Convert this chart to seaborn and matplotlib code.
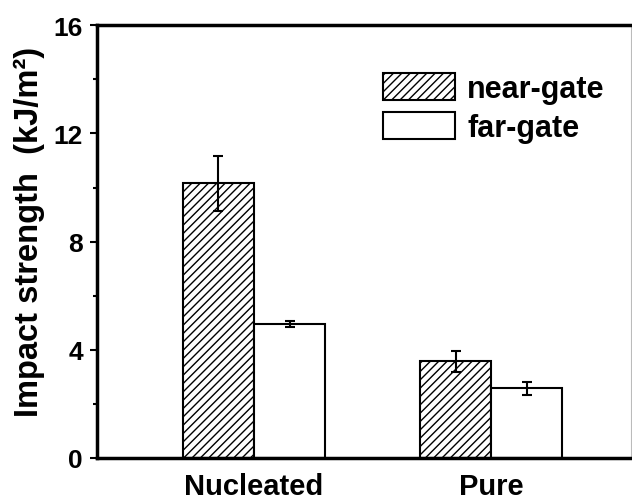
import matplotlib
matplotlib.use("Agg")
import matplotlib.pyplot as plt
import matplotlib.patches as mpatches
import seaborn as sns
import pandas as pd
import numpy as np

categories = ["Nucleated", "Pure"]
series = ["near-gate", "far-gate"]
near_gate = [10.15, 3.57]
far_gate = [4.95, 2.57]
near_err = [1.0, 0.38]
far_err = [0.12, 0.24]
yticks = [0, 4, 8, 12, 16]

sns.set_style("white")
plt.rcParams["font.family"] = ["Liberation Sans", "DejaVu Sans"]
plt.rcParams["font.weight"] = "bold"
plt.rcParams["hatch.linewidth"] = 1.0
for k in ["text.color", "axes.labelcolor", "xtick.color", "ytick.color"]:
    plt.rcParams[k] = "black"

df = pd.DataFrame({
    "cat": categories * 2,
    "pos": [series[0]] * 2 + [series[1]] * 2,
    "val": near_gate + far_gate,
    "err": near_err + far_err,
})

fig = plt.figure(figsize=(6.32, 5.02), dpi=100)
ax = fig.add_axes([0.1535, 0.0857, 0.845, 0.862])

sns.barplot(data=df, x="cat", y="val", hue="pos", order=categories,
            hue_order=series, palette=["white", "white"], edgecolor="black",
            linewidth=1.5, width=0.6, gap=0, errorbar=None, legend=False, ax=ax)

hatches = {series[0]: "////", series[1]: ""}
bars = [p for p in ax.patches if isinstance(p, mpatches.Rectangle)]
idx = 0
for s in series:
    for c in categories:
        p = bars[idx]
        p.set_hatch(hatches[s])
        row = df[(df.cat == c) & (df.pos == s)].iloc[0]
        xc = p.get_x() + p.get_width() / 2
        ax.errorbar(xc, row.val, yerr=row.err, fmt="none", ecolor="black",
                    elinewidth=1.5, capsize=3.3, capthick=1.5)
        idx += 1

ax.set_ylim(0, 16)
ax.set_xlim(-0.662, 1.59)
ax.set_yticks(yticks)
ax.set_yticks([2, 6, 10, 14], minor=True)
ax.tick_params(axis="y", which="major", direction="out", length=5, width=1.5,
               labelsize=19, pad=5, left=True)
ax.tick_params(axis="y", which="minor", direction="out", length=3, width=1.5, left=True)
ax.tick_params(axis="x", length=0, labelsize=21, pad=10)
for lab in ax.get_xticklabels() + ax.get_yticklabels():
    lab.set_fontweight("bold")

ax.set_xlabel("")
ax.set_ylabel("Impact strength  (kJ/m²)", fontsize=23.5, fontweight="bold")
ax.yaxis.set_label_coords(-0.097, 0.525)

for sp in ["left", "bottom", "top"]:
    ax.spines[sp].set_linewidth(2.5)
    ax.spines[sp].set_color("black")
ax.spines["right"].set_linewidth(0.8)
ax.spines["right"].set_color("#bbbbbb")

handles = [mpatches.Patch(facecolor="white", edgecolor="black", linewidth=1.5, hatch="////"),
           mpatches.Patch(facecolor="white", edgecolor="black", linewidth=1.5)]
ax.legend(handles, series, loc="upper left", bbox_to_anchor=(0.513, 0.918),
          frameon=False, handlelength=2.35, handleheight=0.98,
          handletextpad=0.4, labelspacing=0.28, borderaxespad=0.0,
          prop={"weight": "bold", "size": 22})

fig.savefig("out.png", dpi=100)
